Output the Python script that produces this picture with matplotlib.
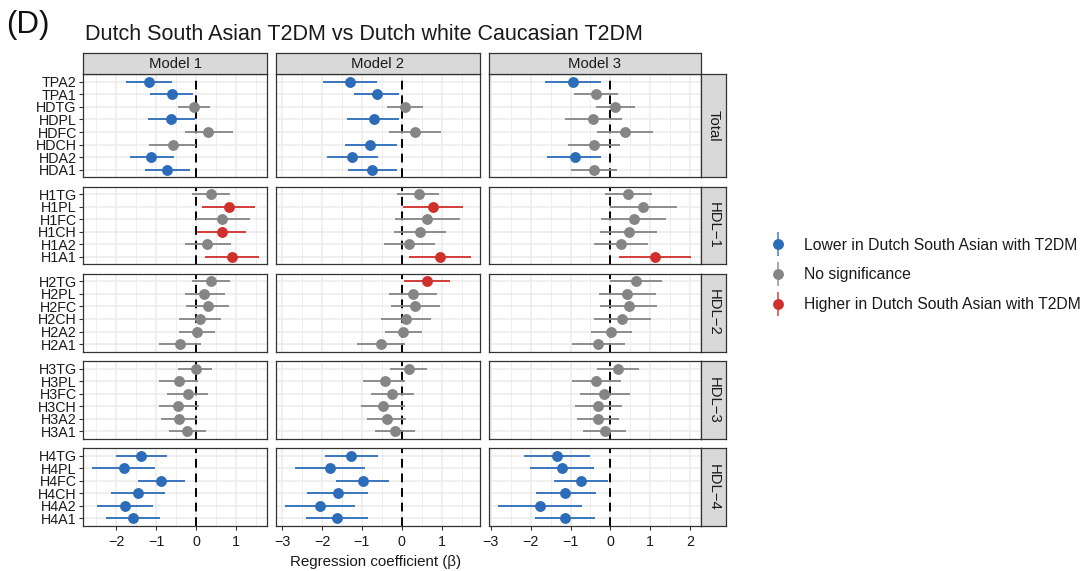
import matplotlib
matplotlib.use("Agg")
import matplotlib.pyplot as plt
from matplotlib.lines import Line2D
from matplotlib.legend_handler import HandlerTuple
from matplotlib.ticker import MultipleLocator
import numpy as np

plt.rcParams['font.family'] = ['Liberation Sans', 'DejaVu Sans']

title = "Dutch South Asian T2DM vs Dutch white Caucasian T2DM"
models = ["Model 1", "Model 2", "Model 3"]
groups = ["Total", "HDL\u22121", "HDL\u22122", "HDL\u22123", "HDL\u22124"]
group_items = [
    ["TPA2", "TPA1", "HDTG", "HDPL", "HDFC", "HDCH", "HDA2", "HDA1"],
    ["H1TG", "H1PL", "H1FC", "H1CH", "H1A2", "H1A1"],
    ["H2TG", "H2PL", "H2FC", "H2CH", "H2A2", "H2A1"],
    ["H3TG", "H3PL", "H3FC", "H3CH", "H3A2", "H3A1"],
    ["H4TG", "H4PL", "H4FC", "H4CH", "H4A2", "H4A1"],
]

# Model 1
est_m1 = [-1.19, -0.61, -0.06, -0.62, 0.31, -0.58, -1.13, -0.73,
          0.38, 0.82, 0.65, 0.64, 0.28, 0.89,
          0.38, 0.21, 0.29, 0.10, 0.03, -0.40,
          -0.01, -0.44, -0.21, -0.45, -0.43, -0.23,
          -1.37, -1.82, -0.87, -1.46, -1.78, -1.59]
lo_m1 = [-1.76, -1.16, -0.46, -1.20, -0.27, -1.18, -1.67, -1.29,
         -0.11, 0.16, -0.01, 0.03, -0.28, 0.22,
         -0.10, -0.29, -0.25, -0.43, -0.42, -0.93,
         -0.45, -0.92, -0.72, -0.94, -0.88, -0.69,
         -2.00, -2.62, -1.45, -2.14, -2.49, -2.27]
hi_m1 = [-0.61, -0.07, 0.34, -0.03, 0.92, 0.01, -0.56, -0.16,
         0.85, 1.49, 1.35, 1.25, 0.87, 1.57,
         0.84, 0.72, 0.82, 0.62, 0.48, 0.12,
         0.41, 0.06, 0.31, 0.07, 0.03, 0.26,
         -0.74, -1.02, -0.28, -0.78, -1.08, -0.90]
sig_m1 = ["L", "L", "N", "L", "N", "N", "L", "L",
          "N", "H", "N", "H", "N", "H",
          "N", "N", "N", "N", "N", "N",
          "N", "N", "N", "N", "N", "N",
          "L", "L", "L", "L", "L", "L"]

# Model 2
est_m2 = [-1.30, -0.63, 0.08, -0.71, 0.32, -0.79, -1.26, -0.74,
          0.42, 0.78, 0.63, 0.46, 0.18, 0.96,
          0.63, 0.28, 0.34, 0.11, 0.04, -0.51,
          0.18, -0.43, -0.24, -0.48, -0.38, -0.18,
          -1.27, -1.80, -0.98, -1.61, -2.05, -1.63]
lo_m2 = [-1.97, -1.21, -0.38, -1.37, -0.33, -1.43, -1.88, -1.34,
         -0.11, 0.02, -0.16, -0.20, -0.44, 0.17,
         0.06, -0.32, -0.28, -0.51, -0.42, -1.12,
         -0.30, -0.97, -0.78, -1.03, -0.87, -0.68,
         -1.93, -2.68, -1.64, -2.38, -2.93, -2.40]
hi_m2 = [-0.63, -0.08, 0.54, -0.07, 0.98, -0.13, -0.59, -0.13,
         0.94, 1.54, 1.46, 1.11, 0.83, 1.73,
         1.22, 0.88, 0.97, 0.74, 0.51, 0.09,
         0.63, 0.09, 0.31, 0.08, 0.11, 0.33,
         -0.59, -0.93, -0.33, -0.84, -1.18, -0.86]
sig_m2 = ["L", "L", "N", "L", "N", "L", "L", "L",
          "N", "H", "N", "N", "N", "H",
          "H", "N", "N", "N", "N", "N",
          "N", "N", "N", "N", "N", "N",
          "L", "L", "L", "L", "L", "L"]

# Model 3
est_m3 = [-0.94, -0.36, 0.12, -0.44, 0.37, -0.41, -0.90, -0.42,
          0.45, 0.82, 0.58, 0.46, 0.26, 1.12,
          0.64, 0.41, 0.46, 0.30, 0.02, -0.31,
          0.18, -0.35, -0.15, -0.31, -0.31, -0.13,
          -1.34, -1.22, -0.74, -1.13, -1.77, -1.15]
lo_m3 = [-1.63, -0.91, -0.37, -1.15, -0.34, -1.06, -1.58, -1.00,
         -0.14, -0.01, -0.24, -0.26, -0.42, 0.21,
         -0.02, -0.29, -0.25, -0.41, -0.48, -0.97,
         -0.33, -0.96, -0.77, -0.89, -0.84, -0.68,
         -2.16, -2.01, -1.42, -1.87, -2.81, -1.88]
hi_m3 = [-0.23, 0.19, 0.62, 0.28, 1.08, 0.24, -0.23, 0.17,
         1.05, 1.68, 1.39, 1.17, 0.95, 2.03,
         1.29, 1.14, 1.18, 1.02, 0.54, 0.36,
         0.71, 0.26, 0.48, 0.29, 0.22, 0.39,
         -0.50, -0.41, -0.06, -0.37, -0.72, -0.38]
sig_m3 = ["L", "N", "N", "N", "N", "N", "L", "N",
          "N", "N", "N", "N", "N", "H",
          "N", "N", "N", "N", "N", "N",
          "N", "N", "N", "N", "N", "N",
          "L", "L", "L", "L", "L", "L"]

legend_labels = ["Lower in Dutch South Asian with T2DM", "No significance",
                 "Higher in Dutch South Asian with T2DM"]
sig_keys = ["L", "N", "H"]
colors = {"L": "#2C6CB9", "N": "#858585", "H": "#D0302B"}

est_all = [est_m1, est_m2, est_m3]
lo_all = [lo_m1, lo_m2, lo_m3]
hi_all = [hi_m1, hi_m2, hi_m3]
sig_all = [sig_m1, sig_m2, sig_m3]

W, H = 1085, 571
fig = plt.figure(figsize=(W / 100, H / 100), dpi=100)

def fx(px):
    return px / W

def fy(py):
    return 1 - py / H

# free x scale per model, 5% expansion, panel widths proportional
xlims = []
for m in range(3):
    lo = min(lo_all[m]); hi = max(hi_all[m])
    r = hi - lo
    xlims.append((lo - 0.05 * r, hi + 0.05 * r))
ranges = [b - a for a, b in xlims]
pl, pr, gx = 83.3, 701.0, 8.7
ppu_x = (pr - pl - 2 * gx) / sum(ranges)
col_x = []
x = pl
for r in ranges:
    col_x.append((x, x + r * ppu_x))
    x += r * ppu_x + gx

pt, pb, gy = 74.3, 526.0, 9.4
units = [len(it) - 1 + 1.2 for it in group_items]
ppu_y = (pb - pt - 4 * gy) / sum(units)
row_y = []
y = pt
for u in units:
    row_y.append((y, y + u * ppu_y))
    y += u * ppu_y + gy

border_c = "#333333"
strip_fill = "#D9D9D9"
tick_fs = 10.3
strip_fs = 10.7

start = 0
for g, items in enumerate(group_items):
    n = len(items)
    y0, y1 = row_y[g]
    for m in range(3):
        x0, x1 = col_x[m]
        ax = fig.add_axes([fx(x0), fy(y1), fx(x1) - fx(x0), fy(y0) - fy(y1)])
        ax.set_xlim(*xlims[m])
        ax.set_ylim(n - 1 + 0.6, -0.6)
        ax.xaxis.set_major_locator(MultipleLocator(1))
        ax.xaxis.set_minor_locator(MultipleLocator(0.5))
        ax.set_yticks(range(n))
        ax.grid(True, which='major', color='#EBEBEB', lw=1.1, zorder=0)
        ax.grid(True, which='minor', axis='x', color='#EBEBEB', lw=0.55, zorder=0)
        ax.set_axisbelow(True)
        for s in ax.spines.values():
            s.set_color(border_c)
            s.set_linewidth(0.9)
            s.set_zorder(5)
        ax.axvline(0, color='black', lw=1.4, ls=(0, (4.5, 3)), zorder=2)
        ax.tick_params(axis='both', which='major', length=3.2, width=0.8,
                       color=border_c, labelsize=tick_fs, labelcolor='#1A1A1A', pad=1.5)
        ax.tick_params(axis='both', which='minor', length=0)
        if m == 0:
            ax.set_yticklabels(items)
        else:
            ax.set_yticklabels([])
            ax.tick_params(axis='y', length=0)
        if g < len(group_items) - 1:
            ax.tick_params(axis='x', length=0, labelbottom=False)
        else:
            ax.tick_params(axis='x', pad=3)
            ax.xaxis.set_major_formatter(plt.FuncFormatter(
                lambda v, p: f"{int(round(v))}".replace("-", "\u2212")))
        for i in range(n):
            k = start + i
            c = colors[sig_all[m][k]]
            ax.plot([lo_all[m][k], hi_all[m][k]], [i, i], color=c, lw=1.3,
                    solid_capstyle='butt', zorder=3)
            ax.plot([est_all[m][k]], [i], 'o', color=c, ms=6.8, mec=c, zorder=4)
        # top strips
        if g == 0:
            sa = fig.add_axes([fx(x0), fy(y0), fx(x1) - fx(x0), fy(53.3) - fy(y0)])
            sa.set_facecolor(strip_fill)
            sa.set_xticks([]); sa.set_yticks([])
            for s in sa.spines.values():
                s.set_color(border_c); s.set_linewidth(0.9)
            sa.text(0.5, 0.5, models[m], ha='center', va='center', fontsize=strip_fs,
                    color='#1A1A1A', transform=sa.transAxes)
        if m == 2:
            sa = fig.add_axes([fx(x1), fy(y1), fx(725.7) - fx(x1), fy(y0) - fy(y1)])
            sa.set_facecolor(strip_fill)
            sa.set_xticks([]); sa.set_yticks([])
            for s in sa.spines.values():
                s.set_color(border_c); s.set_linewidth(0.9)
            sa.text(0.5, 0.5, groups[g], ha='center', va='center', fontsize=strip_fs,
                    rotation=-90, color='#1A1A1A', transform=sa.transAxes)
    start += n

fig.text(fx(6), fy(33), "(D)", fontsize=22.5, ha='left', va='baseline', color='#111111')
fig.text(fx(85), fy(40), title, fontsize=15.5, ha='left', va='baseline', color='#1A1A1A')
fig.text(fx(376), fy(566), "Regression coefficient (\u03b2)", fontsize=10.9,
         ha='center', va='baseline', color='#1A1A1A')

handles = []
for k in sig_keys:
    c = colors[k]
    vline = Line2D([], [], ls='none', marker='|', ms=17, mew=1.3, color=c, alpha=0.75)
    dot = Line2D([], [], ls='none', marker='o', ms=6.8, color=c)
    handles.append((vline, dot))
fig.legend(handles, legend_labels, handler_map={tuple: HandlerTuple(ndivide=1)},
           loc='center left', bbox_to_anchor=(fx(768), fy(275)), frameon=False,
           fontsize=11.3, handlelength=1.27, handletextpad=1.0, labelspacing=0.93,
           borderpad=0, borderaxespad=0, labelcolor='#1A1A1A')

fig.savefig("out.png", dpi=100)
